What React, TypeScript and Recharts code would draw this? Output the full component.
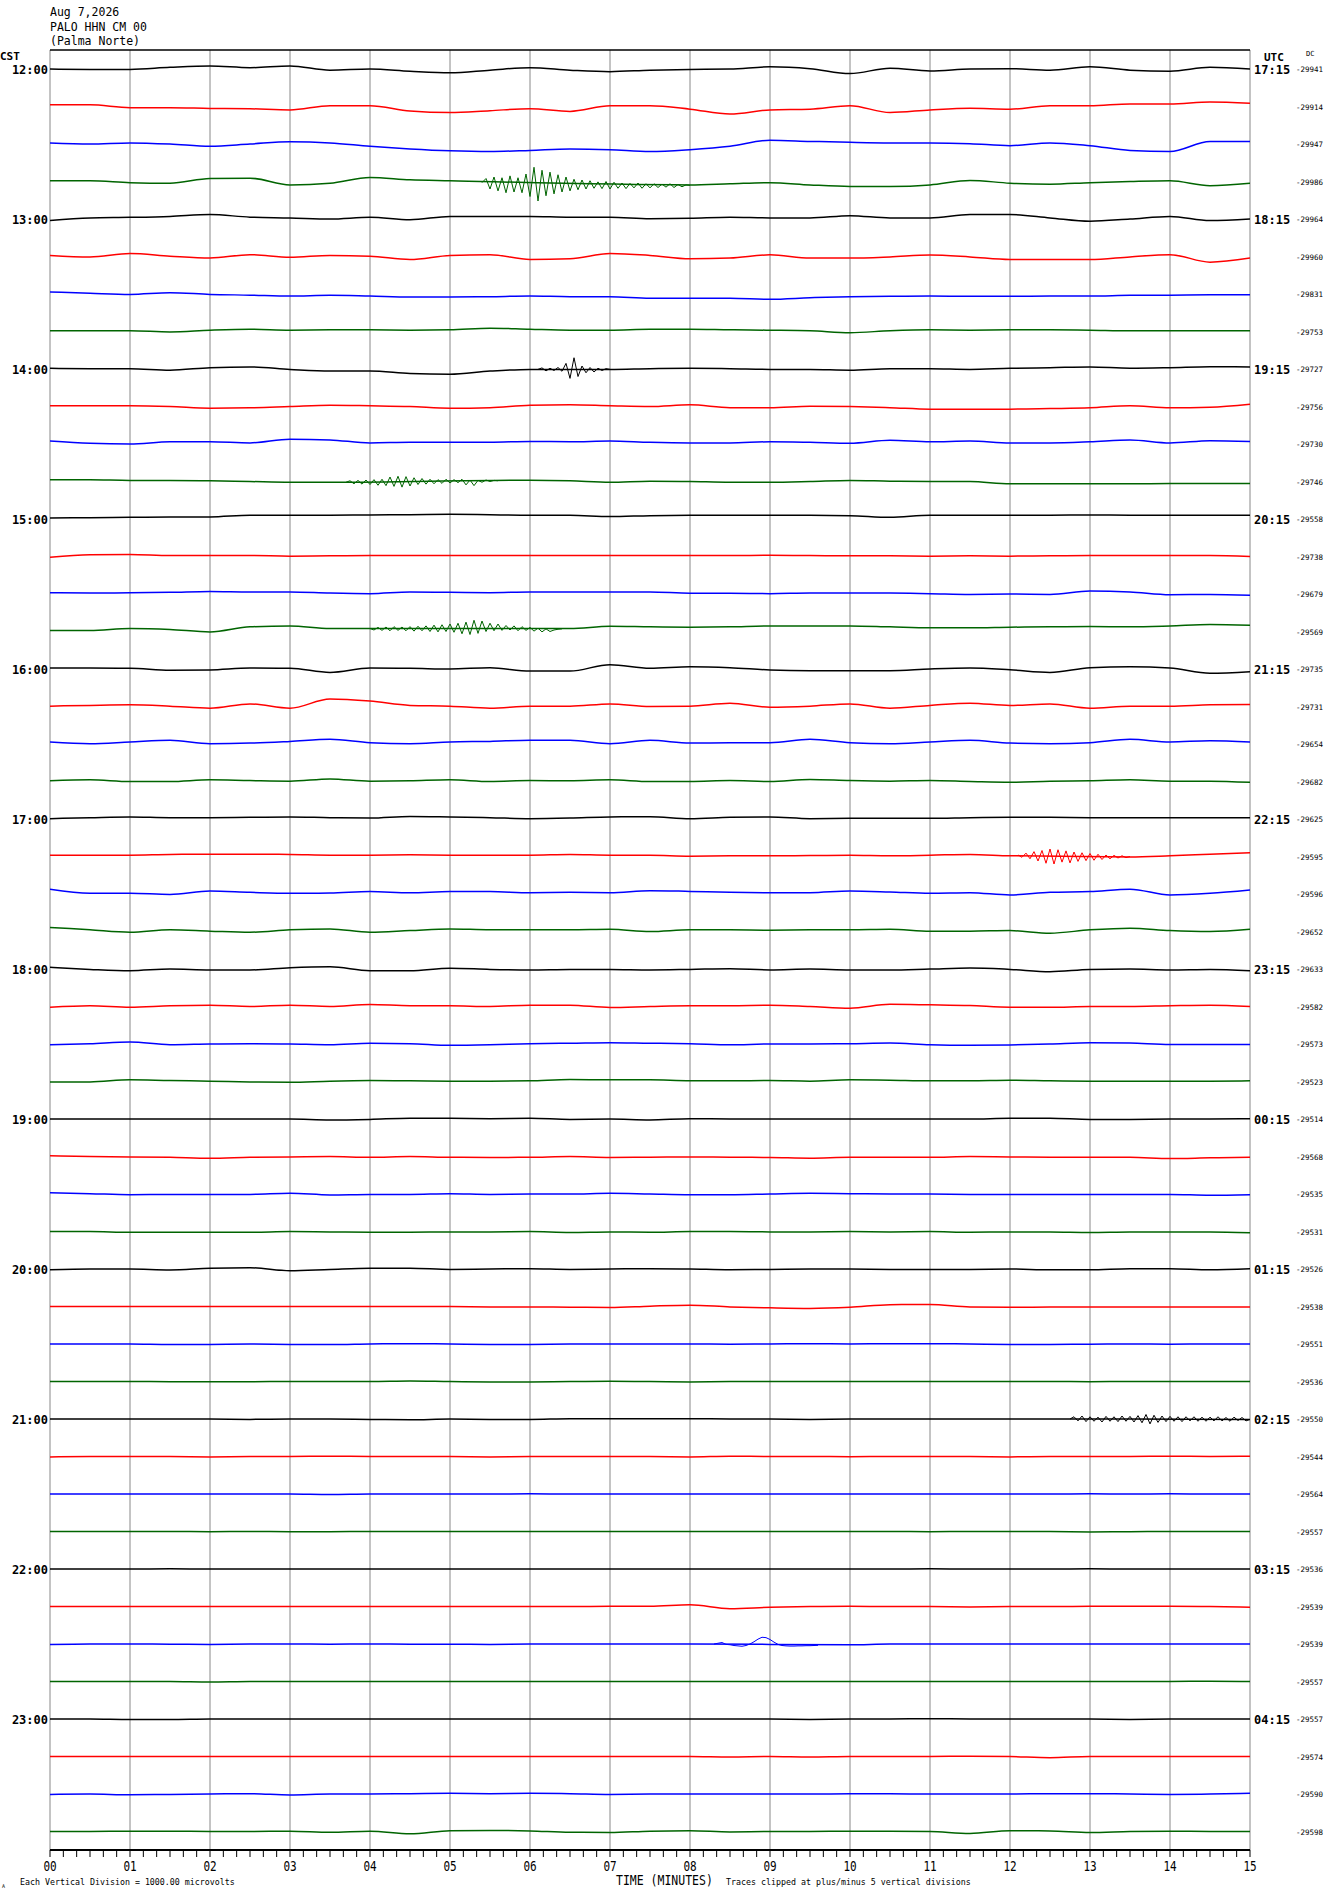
import React from "react";
import { LineChart, Line, XAxis, YAxis, ReferenceLine } from "recharts";

// helicorder: 48 traces of 15 minutes, values in microvolts (positive = up)
const minutes = [0, 0.5, 1, 1.5, 2, 2.5, 3, 3.5, 4, 4.5, 5, 5.5, 6, 6.5, 7, 7.5, 8, 8.5, 9, 9.5, 10, 10.5, 11, 11.5, 12, 12.5, 13, 13.5, 14, 14.5, 15];

const minuteLabels = ["00", "01", "02", "03", "04", "05", "06", "07", "08", "09", "10", "11", "12", "13", "14", "15"];
const cstLabels = ["12:00", "13:00", "14:00", "15:00", "16:00", "17:00", "18:00", "19:00", "20:00", "21:00", "22:00", "23:00"];
const utcLabels = ["17:15", "18:15", "19:15", "20:15", "21:15", "22:15", "23:15", "00:15", "01:15", "02:15", "03:15", "04:15"];
const dcValues = [
  -29941, -29914, -29947, -29986, -29964, -29960, -29831, -29753,
  -29727, -29756, -29730, -29746, -29558, -29738, -29679, -29569,
  -29735, -29731, -29654, -29682, -29625, -29595, -29596, -29652,
  -29633, -29582, -29573, -29523, -29514, -29568, -29535, -29531,
  -29526, -29538, -29551, -29536, -29550, -29544, -29564, -29557,
  -29536, -29539, -29539, -29557, -29557, -29574, -29590, -29598,
];

// one row per 15-minute line, one value per half minute
const traces: number[][] = [
  [0, -10, -10, 45, 80, 35, 80, -30, 0, -60, -100, -30, 35, -30, -70, -30, -10, 0, 60, 10, -120, 20, -50, 0, 10, -30, 60, -30, -60, 45, 0],
  [45, 45, -30, -30, -50, -60, -90, 20, 20, -120, -160, -110, -60, -130, 20, 20, -70, -200, -90, -70, 20, -160, -90, -45, -70, 20, 20, 70, 70, 120, 90],
  [30, 0, 30, 0, -60, 0, 60, 30, -60, -130, -180, -200, -170, -130, -150, -200, -150, -60, 100, 70, 45, 30, 30, 10, -45, 30, -45, -170, -200, 70, 70],
  [20, 20, -30, -45, 80, 90, -90, -45, 110, 45, 20, -90, -60, -200, -150, -150, -90, -60, -30, -90, -130, -130, -90, 30, -45, -70, -30, 0, 20, -110, -45],
  [-40, 30, 45, 70, 120, 50, 30, 0, 45, -20, 70, 70, 70, 45, 50, 10, 20, 50, 30, 30, 90, 30, 30, 120, 120, 30, -60, 0, 70, -40, 0],
  [30, -10, 80, 10, -40, 50, -20, 30, 10, -80, 30, 50, -80, -60, 80, 30, -60, -40, 45, -40, -40, -10, 40, -10, -80, -80, -80, -10, 50, -150, -40],
  [55, 20, -10, 35, -10, -30, -55, -35, -55, -80, -80, -70, -55, -70, -70, -110, -110, -110, -140, -100, -70, -60, -55, -60, -60, -55, -55, -35, -30, -20, -20],
  [20, 20, 20, -10, 35, 60, 35, 45, 45, 35, 45, 90, 60, 35, 35, 60, 60, 45, 35, 20, -30, 20, 45, 35, 45, 45, 35, 20, 20, 20, 20],
  [20, 10, 10, -30, 35, 55, -10, -55, -55, -120, -140, -55, -10, 0, -10, 10, 20, 10, -10, -10, -30, 10, 10, -10, 20, 35, 55, 20, 35, 60, 55],
  [20, 20, 20, 0, -45, -35, 0, 35, 20, 0, -45, -30, 35, 45, 20, 0, 45, -30, -30, 10, 0, -30, -70, -70, -70, -55, -35, 20, -35, -20, 60],
  [80, 20, 0, 60, 60, 30, 130, 110, 30, 45, 45, 45, 70, 60, 80, 45, 30, 30, 60, 45, 20, 100, 60, 80, 30, 30, 60, 110, 30, 90, 70],
  [45, 45, 30, 30, 20, 0, -20, -20, 0, 0, 30, 30, 35, 20, -20, 10, 0, -20, -20, 0, 30, 10, 0, 0, -60, -60, -60, -60, -55, -55, -55],
  [30, 35, 45, 55, 55, 100, 100, 100, 110, 115, 125, 115, 100, 100, 65, 90, 100, 100, 100, 100, 90, 45, 100, 100, 100, 100, 110, 100, 100, 100, 100],
  [-20, 45, 55, 25, 25, 25, 10, 20, 25, 25, 25, 25, 25, 25, 25, 25, 25, 25, 35, 25, 20, 20, 10, 20, 10, 20, 25, 25, 25, 25, 0],
  [35, 25, 35, 45, 70, 55, 55, 25, 10, 55, 45, 35, 55, 55, 55, 55, 20, 20, 10, 25, 25, 25, 10, -10, 0, -10, 80, 55, -20, -10, -35],
  [25, 25, 80, 55, -10, 125, 150, 80, 80, 80, 80, 100, 80, 80, 140, 125, 115, 125, 150, 150, 150, 125, 100, 100, 115, 125, 135, 125, 150, 190, 170],
  [25, 25, 20, -35, -25, 25, 20, -90, 25, 20, 0, 35, -55, -55, 115, 20, 60, 35, -25, -45, -45, -45, 0, 25, -20, -90, 35, 60, 25, -110, -70],
  [10, 30, 45, 10, -45, 70, -45, 200, 145, 30, 10, -45, 10, 10, 70, 0, 10, 90, -20, 10, 70, -45, 30, 90, 30, 70, -45, 10, 10, 45, 55],
  [55, 10, 55, 100, 10, 25, 70, 125, 35, 10, 55, 70, 100, 100, 10, 100, 25, 35, 35, 125, 35, 10, 55, 100, 25, 10, 35, 125, 55, 90, 55],
  [20, 45, 0, 0, 45, 25, 10, 70, 10, 20, 45, 0, 25, 20, 45, 0, 0, 25, 0, 55, 25, 10, 25, 0, -20, 10, 20, 45, 10, 10, -20],
  [10, 35, 55, 35, 35, 45, 55, 35, 25, 70, 55, 35, 10, 25, 55, 60, 10, 45, 55, 10, 20, 20, 20, 35, 45, 45, 35, 35, 35, 35, 35],
  [35, 35, 35, 55, 60, 60, 55, 35, 35, 45, 35, 35, 35, 55, 35, 35, 10, 20, 20, 25, 35, 20, 35, 55, 20, 0, 0, -10, 20, 60, 100],
  [130, 20, 20, -10, 80, 45, 20, 25, 65, 35, 65, 65, 35, 45, 35, 90, 70, 45, 35, 35, 80, 55, 20, 35, -25, 45, 65, 130, -25, 20, 110],
  [110, 45, -20, 45, 10, -20, 45, 70, -20, 25, 70, 45, 45, 45, 60, 0, 45, 45, 35, 45, 45, 60, 10, 10, 25, -45, 45, 90, 25, 0, 60],
  [45, -10, -45, 0, -25, -25, 35, 60, -45, -45, 20, -10, -25, -10, -10, -25, -10, 10, -25, 0, -25, -25, 0, 25, -10, -70, -10, 0, -25, -10, -45],
  [-20, 20, -20, 20, 35, 0, 35, 0, 55, 20, 20, 0, 35, 35, -25, 0, 20, 20, 35, 0, -45, 60, 45, 25, -20, -20, 0, 0, 20, 35, 0],
  [-20, 10, 55, -20, 0, 10, 0, -20, 20, 10, -35, -20, 10, 20, 35, 20, 10, -20, 0, 0, 10, 25, -20, -35, -25, 0, 35, 25, -10, -10, -10],
  [-10, -10, 45, 25, 10, -10, -20, 10, 25, 20, 10, 10, 20, 55, 45, 45, 20, 20, 25, 10, 45, 35, 20, 20, 35, 20, 10, 10, 10, 10, 20],
  [0, 0, 0, 0, 0, 0, 0, -25, -10, 20, 20, 10, 20, -10, 0, -25, 10, 0, 0, 0, 0, 0, 0, 0, 20, 20, -10, -10, 0, 0, 10],
  [20, 0, -10, -20, -45, -20, -10, 0, -20, 0, -20, -25, -20, 0, -25, -20, -10, -20, -25, -45, -20, -20, -20, 0, -10, -20, -20, -20, -55, -35, -20],
  [35, 10, -20, -10, -10, -10, 20, -25, -10, -10, 10, -10, 0, 0, 20, 0, -20, -20, 0, 20, 10, 0, 0, -10, -10, -10, -10, -10, -10, -35, -20],
  [0, 0, -20, -20, -20, -20, 0, -10, -20, -20, -10, -10, 0, -25, -10, -20, 0, 0, -10, -10, 0, -10, 0, -20, -10, -10, -25, -10, -10, -10, -35],
  [-20, 0, 0, -25, 20, 35, -45, -10, 20, 20, -10, 0, 10, -10, 0, 10, 0, -20, -10, 0, 0, -10, -10, -10, 0, -20, -20, 10, 10, -20, 10],
  [0, 0, 0, 0, 0, 0, 0, 0, 0, 0, 0, -10, -10, -20, -25, 10, 35, -10, -35, -50, -20, 50, 55, -10, -20, -15, -10, -10, -10, -10, -10],
  [0, 0, 0, -15, -10, 0, -10, -15, 0, 10, 0, -10, -10, 0, 0, 0, 0, -5, 0, 10, 0, 10, 10, 0, -10, -10, -5, 0, -5, 0, 0],
  [0, 0, 0, -5, -5, -5, 0, 0, 0, 15, 0, -10, -10, 0, 5, 0, -10, 0, 0, 0, 0, 0, 0, 0, 0, 0, -5, 0, 0, 0, 0],
  [0, 0, 0, 0, 0, -10, 0, 0, -10, -20, 0, -10, -10, 10, 10, 10, 10, 0, 0, -10, 0, 0, 0, 0, 0, 0, 0, 0, 0, 0, -10],
  [-10, 0, 0, 0, -10, 0, 0, 10, 0, 0, 0, -10, 0, 0, 0, 0, -10, 10, 0, 0, -5, 0, 0, 0, -10, 0, 0, 0, 10, 0, 10],
  [0, 0, 0, 0, 0, 0, 0, -15, 0, 0, 0, 0, 5, 0, 0, 0, 0, 0, 0, 0, 0, 0, 0, 0, 0, 0, 5, 0, 5, 0, 0],
  [0, 0, 0, 0, -5, 0, -5, -5, 0, 0, 0, 0, 0, 0, 0, 0, 0, 0, 0, 0, 0, 0, -5, 0, 0, 0, -10, -5, 0, 0, 0],
  [0, 0, 0, 5, 0, 0, 0, 0, 0, 0, 0, 0, 0, 0, 0, 0, 0, 0, 0, 0, 0, 0, 5, 0, 0, 0, 5, 0, 0, 0, 0],
  [0, 0, 0, 0, 0, 0, 0, 0, 0, 0, 0, 0, 0, 0, 5, 5, 45, -60, -20, 0, 5, 0, 0, -10, 0, 0, 5, 10, 10, 0, -20],
  [-15, 0, 0, -5, -10, 0, 0, -5, 0, -5, -5, -10, 0, 0, 0, 0, 0, 0, 0, 0, -20, 0, 0, 0, 0, 0, 0, 0, 0, 0, 0],
  [0, 0, 0, 0, -15, 0, 0, 0, 0, 0, 0, 0, 0, 0, 0, 0, 0, 0, 0, 0, 0, 0, 0, 0, 0, 0, 0, 0, 0, 10, 0],
  [0, 0, -15, -15, 0, 0, 0, 0, 0, 0, 0, 0, 0, 0, 0, 0, 0, 0, 0, -10, 0, 0, 10, 0, 0, 0, 0, -10, 0, 0, 0],
  [0, 0, 0, 0, 0, 0, 0, 0, 0, 0, 0, 0, 0, 0, 0, 0, 0, -15, 0, -15, 0, 0, 0, 10, 0, -30, 0, 0, 0, 0, 0],
  [-10, 0, -20, -10, 0, 10, -25, 0, 0, 10, 20, 10, 20, 10, -10, 0, 0, 0, 0, 0, 5, 5, 0, 0, 0, 10, 10, 0, -10, 0, 20],
  [0, 0, 10, 10, 0, 0, 10, -20, 10, -60, 20, 30, 15, -20, -25, 10, 20, -10, 0, 0, 10, 10, 0, -50, 20, 15, -25, 0, 10, 0, 0],
];

// event windows, sampled every 3 seconds
const BURST_STEP = 0.05;
const quake1300 = [-30, 80, -200, 120, -250, 100, -300, 150, -280, 100, -300, 200, -400, 380, -520, 300, -380, 250, -330, 180, -280, 120, -250, 60, -220, 40, -200, 20, -180, -10, -190, 0, -200, -20, -180, -40, -190, -50, -170, -40, -180, -60, -170, -60, -160, -70, -150, -60, -160, -80, -140, -90, -100];
const spike1400 = [-10, 30, -50, 20, -40, 40, -60, 150, -250, 300, -200, 80, -100, 40, -80, 20, -40, 10, -10];
const tremor1445 = [-20, 20, -60, 30, -70, 40, -80, 50, -100, 60, -110, 120, -130, 140, -150, 130, -120, 100, -80, 80, -70, 60, -60, 50, -50, 60, -40, 50, -30, 60, -90, 40, -110, 30, -20, 40, 0, 30, 20];
const tremor1545 = [80, 40, 110, 30, 120, 20, 130, 30, 120, 20, 130, 10, 140, 20, 150, 0, 170, -10, 180, 0, 200, -20, 220, -60, 250, -80, 300, -50, 280, 0, 220, 20, 200, 30, 160, 40, 150, 20, 130, 30, 110, 10, 90, -10, 70, 0, 40, 60, 70];
const noise1715 = [40, -20, 90, -60, 130, -120, 160, -180, 200, -200, 180, -150, 150, -170, 120, -130, 100, -110, 80, -100, 60, -80, 40, -60, 30, -40, 20, -30, 0];
const noise2100 = [0, 60, -50, 80, -70, 60, -60, 50, -80, 70, -60, 60, -70, 80, -60, 70, -80, 90, -100, 120, -130, 100, -90, 80, -70, 70, -60, 60, -70, 60, -50, 60, -60, 50, -60, 50, -50, 60, -50, 40, -60, 50, -40, 40, -50, -10];
const pulse2230 = [0, 20, 40, -10, -20, -40, -50, -60, -40, 0, 60, 130, 180, 170, 120, 50, -10, -40, -50, -55, -55, -50, -50, -45, -45, -40, -35];

const bursts = [
  { row: 3, start: 5.4, values: quake1300 },
  { row: 8, start: 6.1, values: spike1400 },
  { row: 11, start: 3.7, values: tremor1445 },
  { row: 15, start: 4.0, values: tremor1545 },
  { row: 21, start: 12.1, values: noise1715 },
  { row: 36, start: 12.75, values: noise2100 },
  { row: 42, start: 8.3, values: pulse2230 },
];

const colors = ["#000000", "#ff0000", "#0000ff", "#006400"];
const FONT = "'DejaVu Sans Mono', monospace";
const Y_DOMAIN: [number, number] = [-0.507, 47.493];

const burstEnd = (b: { start: number; values: number[] }) => b.start + (b.values.length - 1) * BURST_STEP;

// slow part of a trace; half-minute samples inside an event window are left to the event line
function traceData(row: number) {
  const own = bursts.filter((b) => b.row === row);
  const pts: { t: number; y: number }[] = [];
  minutes.forEach((t, i) => {
    if (own.some((b) => t > b.start + 1e-6 && t < burstEnd(b) - 1e-6)) return;
    pts.push({ t, y: row - traces[row][i] / 1000 });
  });
  return pts;
}

function burstData(b: { row: number; start: number; values: number[] }) {
  return b.values.map((v, j) => ({ t: +(b.start + j * BURST_STEP).toFixed(3), y: b.row - v / 1000 }));
}

const xTicks = Array.from({ length: 91 }, (_, i) => i / 6);
const rows = traces.map((_, i) => i);
const hourRows = rows.filter((r) => r % 4 === 0);

const MinuteTick = (props: any) => {
  const { x, y, payload } = props;
  const v = payload.value;
  const m = Math.round(v);
  if (Math.abs(v - m) > 1e-6) return null;
  return (
    <text transform={`translate(${x},${y + 14}) scale(1,1.35)`} textAnchor="middle" fontSize={11} fontFamily={FONT}>
      {minuteLabels[m]}
    </text>
  );
};

const CstTick = (props: any) => {
  const { x, y, payload } = props;
  return (
    <text x={x} y={y + 5} textAnchor="end" fontSize={12} fontWeight="bold" fontFamily={FONT}>
      {cstLabels[payload.value / 4]}
    </text>
  );
};

const RightTick = (props: any) => {
  const { x, y, payload } = props;
  const r = payload.value;
  return (
    <g>
      {r % 4 === 0 && (
        <text x={x + 4} y={y + 5} fontSize={12} fontWeight="bold" fontFamily={FONT}>
          {utcLabels[r / 4]}
        </text>
      )}
      <text x={x + 46} y={y + 3} fontSize={7.5} fontFamily={FONT}>
        {dcValues[r]}
      </text>
    </g>
  );
};

export default function App() {
  return (
    <div style={{ position: "absolute", left: 0, top: 0, width: 1330, height: 1894, background: "#fff" }}>
      <LineChart width={1330} height={1894} margin={{ top: 50, right: 0, bottom: 14, left: 0 }}>
        <XAxis
          dataKey="t"
          type="number"
          domain={[0, 15]}
          ticks={xTicks}
          interval={0}
          allowDataOverflow
          height={30}
          tickSize={7}
          tickMargin={0}
          tickLine={{ stroke: "#000" }}
          axisLine={{ stroke: "#000", strokeWidth: 2 }}
          tick={<MinuteTick />}
        />
        <YAxis
          yAxisId="cst"
          type="number"
          domain={Y_DOMAIN}
          reversed
          allowDataOverflow
          width={50}
          ticks={hourRows}
          interval={0}
          tickSize={0}
          tickMargin={2}
          tickLine={false}
          axisLine={false}
          tick={<CstTick />}
        />
        <YAxis
          yAxisId="utc"
          orientation="right"
          type="number"
          domain={Y_DOMAIN}
          reversed
          allowDataOverflow
          width={80}
          ticks={rows}
          interval={0}
          tickSize={0}
          tickMargin={0}
          tickLine={false}
          axisLine={false}
          tick={<RightTick />}
        />
        {minuteLabels.map((_, m) => (
          <ReferenceLine key={`g${m}`} yAxisId="cst" x={m} stroke="#888" strokeWidth={1} ifOverflow="visible" />
        ))}
        <ReferenceLine yAxisId="cst" y={Y_DOMAIN[0]} stroke="#000" strokeWidth={1.5} ifOverflow="visible" />
        {rows.map((r) => (
          <Line
            key={r}
            yAxisId="cst"
            data={traceData(r)}
            dataKey="y"
            type="monotone"
            stroke={colors[r % 4]}
            strokeWidth={1.5}
            dot={false}
            activeDot={false}
            isAnimationActive={false}
          />
        ))}
        {bursts.map((b, i) => (
          <Line
            key={`b${i}`}
            yAxisId="cst"
            data={burstData(b)}
            dataKey="y"
            type="linear"
            stroke={colors[b.row % 4]}
            strokeWidth={1}
            dot={false}
            activeDot={false}
            isAnimationActive={false}
          />
        ))}
      </LineChart>
      <svg width={1330} height={1894} style={{ position: "absolute", left: 0, top: 0, pointerEvents: "none" }} fontFamily={FONT}>
        <text x={50} y={16} fontSize={11.5}>Aug 7,2026</text>
        <text x={50} y={30.5} fontSize={11.5}>PALO HHN CM 00</text>
        <text x={50} y={44.5} fontSize={11.5}>(Palma Norte)</text>
        <text x={0} y={60} fontSize={11} fontWeight="bold">CST</text>
        <text x={1264} y={61} fontSize={11} fontWeight="bold">UTC</text>
        <text x={1306} y={56} fontSize={7}>DC</text>
        <text transform="translate(616,1885) scale(1,1.15)" fontSize={11.5}>TIME (MINUTES)</text>
        <text x={20} y={1885} fontSize={8.3}>Each Vertical Division = 1000.00 microvolts</text>
        <text x={726} y={1885} fontSize={8.3}>Traces clipped at plus/minus 5 vertical divisions</text>
        <text x={2} y={1888} fontSize={5}>A</text>
      </svg>
    </div>
  );
}
